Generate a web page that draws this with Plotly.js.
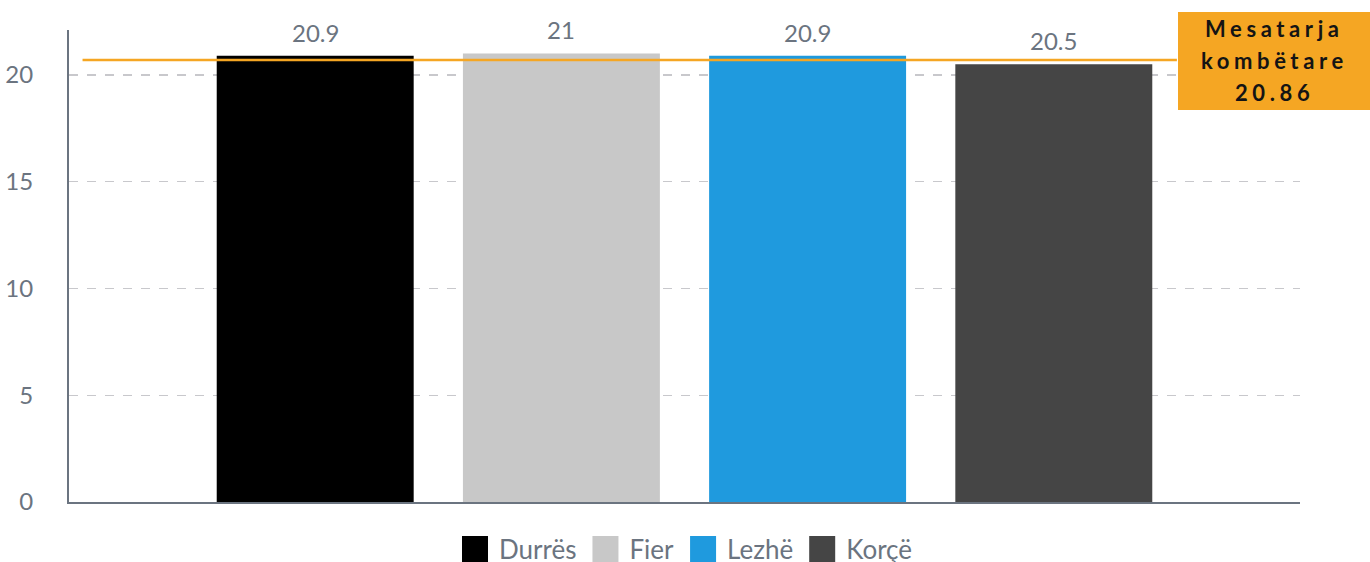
<!DOCTYPE html>
<html><head><meta charset="utf-8">
<script src="https://cdn.plot.ly/plotly-3.0.1.min.js"></script>
<style>html,body{margin:0;padding:0;background:#fff;}#chart{width:1370px;height:562px;}</style>
</head><body><div id="chart"></div>
<script>
const categories = ["Durrës", "Fier", "Lezhë", "Korçë"];
const values = [20.9, 21, 20.9, 20.5];
const labels = ["20.9", "21", "20.9", "20.5"];
const colors = ["#000000", "#c8c8c8", "#1f9ade", "#454545"];
const nationalAverage = 20.86;
const nationalLineLevel = 20.7;
const boxLines = ["Mesatarja", "kombëtare", nationalAverage.toFixed(2)];
const yTicks = [0, 5, 10, 15, 20];

const gray = "#6b7480";
const traces = categories.map((c, i) => ({
  type: "bar", name: c, x: [c], y: [values[i]],
  marker: {color: colors[i], line: {width: 0}}, width: 0.8, hoverinfo: "skip"
}));

const annotations = categories.map((c, i) => ({
  x: c, y: values[i], xref: "x", yref: "y", text: labels[i],
  showarrow: false, yanchor: "bottom", yshift: 7,
  font: {family: "Lato, sans-serif", size: 24, color: gray}
}));
const lineY = [1.0042, 0.9364, 0.8686];
boxLines.forEach((t, i) => annotations.push({
  xref: "paper", yref: "paper", x: 0.9789, y: lineY[i], xanchor: "center", yanchor: "middle",
  text: '<span style="letter-spacing:4.6px">' + t + '</span>',
  showarrow: false, align: "center",
  font: {family: "Lato, sans-serif", size: 22, color: "#141414", weight: 700}
}));

const layout = {
  width: 1370, height: 562,
  margin: {l: 69, r: 70, t: 30, b: 60, autoexpand: false},
  paper_bgcolor: "#ffffff", plot_bgcolor: "#ffffff",
  barmode: "overlay",
  showlegend: true,
  legend: {orientation: "h", x: 0.5, xanchor: "center", y: -0.0996, yanchor: "middle",
    font: {family: "Lato, sans-serif", size: 26, color: gray}, itemwidth: 38, tracegroupgap: 0},
  xaxis: {range: [-1, 4], showticklabels: false, ticks: "", showgrid: false, zeroline: false,
    showline: true, linecolor: gray, linewidth: 2, fixedrange: true},
  yaxis: {range: [0, 22.1], tickvals: yTicks, ticktext: yTicks.map(String), showgrid: true,
    gridcolor: "#c8c8cc", griddash: "dash", gridwidth: 1.3, zeroline: false,
    showline: true, linecolor: gray, linewidth: 2, ticks: "", ticklabelstandoff: 29,
    tickfont: {family: "Lato, sans-serif", size: 24, color: gray}},
  shapes: [
    {type: "line", xref: "paper", yref: "y", x0: 0.011, x1: 0.9, y0: nationalLineLevel, y1: nationalLineLevel,
      line: {color: "#f5a623", width: 2.5}},
    {type: "rect", xref: "paper", yref: "paper", x0: 0.9009, x1: 1.06, y0: 0.8305, y1: 1.0381,
      fillcolor: "#f5a623", line: {width: 0}}
  ],
  annotations: annotations
};

Plotly.newPlot("chart", traces, layout, {displayModeBar: false, staticPlot: true}).then(() => {
  document.querySelectorAll(".legendpoints path").forEach(p => {
    p.setAttribute("d", "M13,13H-13V-13H13Z");
    p.style.strokeWidth = "0";
  });
});
</script></body></html>
